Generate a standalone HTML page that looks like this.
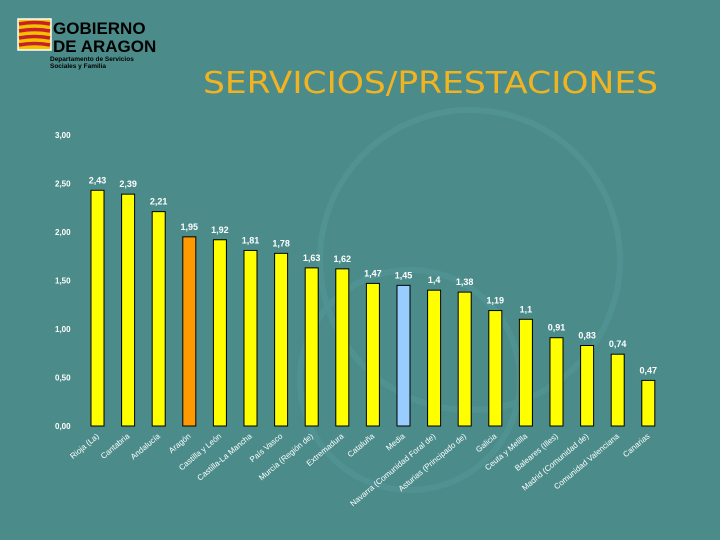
<!DOCTYPE html>
<html><head><meta charset="utf-8"><style>
html,body{margin:0;padding:0;background:#4b8c8b;width:720px;height:540px;overflow:hidden}
svg{display:block;font-family:"Liberation Sans",sans-serif}
</style></head><body>
<svg id="c" width="720" height="540">
<g fill="none" stroke="#559998" stroke-width="6" opacity="0.5">
<circle cx="410" cy="380" r="110"/><circle cx="470" cy="260" r="150"/>
</g>
<g>
<rect x="18" y="19" width="33" height="31" fill="#f2c200" stroke="#fff" stroke-width="1.5"/>
<path d="M19 24 q16 -3 31 0 M19 31 q16 -3 31 0 M19 38 q16 -3 31 0 M19 45 q16 -3 31 0" stroke="#c8202a" stroke-width="3.5" fill="none"/>
<text x="53" y="34" font-size="17" font-weight="bold" fill="#000">GOBIERNO</text>
<text x="53" y="52" font-size="17" font-weight="bold" fill="#000">DE ARAGON</text>
<text x="50" y="61" font-size="6.5" font-weight="bold" fill="#000">Departamento de Servicios</text>
<text x="50" y="68" font-size="6.5" font-weight="bold" fill="#000">Sociales y Familia</text>
</g>
<text x="203" y="93" font-size="30" fill="#f2b320" font-family="DejaVu Sans, sans-serif" textLength="455" lengthAdjust="spacingAndGlyphs">SERVICIOS/PRESTACIONES</text>
<g id="axis"></g><g id="bars"></g>
</svg>
<script>
const categories=["Rioja (La)","Cantabria","Andalucía","Aragón","Castilla y León","Castilla-La Mancha","País Vasco","Murcia (Región de)","Extremadura","Cataluña","Media","Navarra (Comunidad Foral de)","Asturias (Principado de)","Galicia","Ceuta y Melilla","Baleares (Illes)","Madrid (Comunidad de)","Comunidad Valenciana","Canarias"];
const values=[2.43,2.39,2.21,1.95,1.92,1.81,1.78,1.63,1.62,1.47,1.45,1.4,1.38,1.19,1.1,0.91,0.83,0.74,0.47];
const valueLabels=["2,43","2,39","2,21","1,95","1,92","1,81","1,78","1,63","1,62","1,47","1,45","1,4","1,38","1,19","1,1","0,91","0,83","0,74","0,47"];
const ticks=[0,0.5,1,1.5,2,2.5,3];
const tickLabels=["0,00","0,50","1,00","1,50","2,00","2,50","3,00"];
const NS="http://www.w3.org/2000/svg";
const y=v=>426-v*97;
const x=i=>97.5+i*30.6;
function mk(t,a,p){const e=document.createElementNS(NS,t);for(const k in a)e.setAttribute(k,a[k]);p.appendChild(e);return e;}
const ax=document.getElementById('axis'),bg=document.getElementById('bars');
ticks.forEach((t,i)=>{const e=mk('text',{x:55,y:y(t)+3,'font-size':8,'font-weight':'bold',fill:'#fff'},ax);


e.textContent=tickLabels[i];});
values.forEach((v,i)=>{
const col=categories[i]==="Aragón"?"#ff9900":categories[i]==="Media"?"#99ccff":"#ffff00";
const r=mk('rect',{x:x(i)-6.5,y:y(v),width:13,height:426-y(v),fill:col,stroke:'#000','stroke-width':1},bg);


const l=mk('text',{x:x(i),y:y(v)-7,'font-size':9,'font-weight':'bold',fill:'#fff','text-anchor':'middle'},bg);


l.textContent=valueLabels[i];
const c=mk('text',{transform:`translate(${x(i)+2},${437}) rotate(-40)`,'font-size':8,fill:'#fff','text-anchor':'end'},bg);


c.textContent=categories[i];
});
</script>
</body></html>
